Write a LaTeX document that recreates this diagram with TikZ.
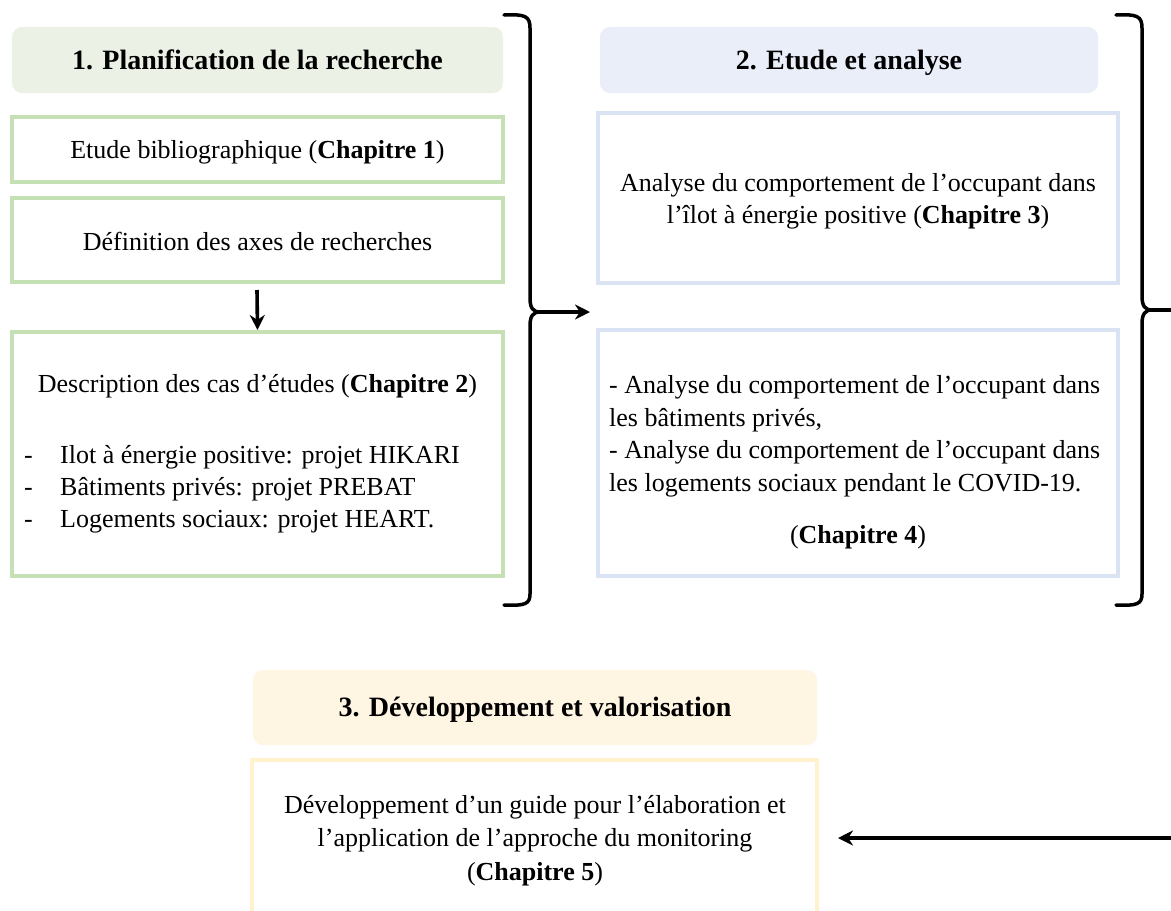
\documentclass[tikz,border=0pt]{standalone}
\usepackage{fontspec}
\setmainfont{Liberation Serif}
\usetikzlibrary{arrows.meta}
\definecolor{gline}{HTML}{C5E0B4}
\definecolor{gfill}{HTML}{EBF2E5}
\definecolor{bline}{HTML}{DAE3F3}
\definecolor{bfill}{HTML}{E9EEF8}
\definecolor{yline}{HTML}{FFF2CC}
\definecolor{yfill}{HTML}{FEF5E3}
\tikzset{
  hdr/.style={rounded corners=10pt, inner sep=0pt},
  hdrtxt/.style={inner sep=0pt, font=\fontsize{28}{32}\selectfont\bfseries},
  boxg/.style={draw=gline, line width=4pt, inner sep=0pt},
  boxb/.style={draw=bline, line width=4pt, inner sep=0pt},
  boxy/.style={draw=yline, line width=4pt, inner sep=0pt},
  txt/.style={inner sep=0pt, font=\fontsize{26}{32}\selectfont},
  brace/.style={line width=3.5pt, line join=round, line cap=round},
  arr/.style={line width=3.6pt, -{Stealth[length=15pt,width=15pt]}}
}
\begin{document}
\begin{tikzpicture}[x=1pt,y=-1pt]
\useasboundingbox (0,0) rectangle (1171,911);
\clip (0,0) rectangle (1171,911);
\fill[white] (0,0) rectangle (1171,911);
% column 1
\node[hdr, fill=gfill, minimum width=491pt, minimum height=66pt] (h1) at (257.5,60) {};
\node[hdrtxt, anchor=base] (h1t) at (257.5,69) {1. Planification de la recherche};
\node[boxg, minimum width=491pt, minimum height=65pt] (b1) at (257.5,149.5) {};
\node[txt, anchor=base] (b1t) at (257.5,158) {Etude bibliographique (\textbf{Chapitre 1})};
\node[boxg, minimum width=491pt, minimum height=84pt] (b2) at (257.5,240) {};
\node[txt, anchor=base] (b2t) at (257.5,250) {Définition des axes de recherches};
\node[boxg, minimum width=491pt, minimum height=244pt] (b3) at (257.5,454) {};
\node[txt, anchor=base] (b3t) at (257.5,392) {Description des cas d’études (\textbf{Chapitre 2})};
\node[txt, anchor=base west] (d1) at (24,463) {-};
\node[txt, anchor=base west] (d2) at (24,495) {-};
\node[txt, anchor=base west] (d3) at (24,527) {-};
\node[txt, anchor=base west] (l1) at (60,463) {Ilot à énergie positive: projet HIKARI};
\node[txt, anchor=base west] (l2) at (60,495) {Bâtiments privés: projet PREBAT};
\node[txt, anchor=base west] (l3) at (60,527) {Logements sociaux: projet HEART.};
\coordinate (a2) at (257,290);
\draw[arr] (a2) -- (b3.north);
% brace 1
\coordinate (c1) at (540,312);
\coordinate (c1end) at (590,312);
\draw[brace] (504,15) .. controls (525,14) and (530,16) .. (530,28) -- (530,298) .. controls (530,308) and (533,312) .. (c1)
  .. controls (533,312) and (530,316) .. (530,326) -- (530,594) .. controls (530,604) and (525,606) .. (504,605);
\draw[arr] (c1) -- (c1end);
% column 2
\node[hdr, fill=bfill, minimum width=498pt, minimum height=66pt] (h2) at (849,60) {};
\node[hdrtxt, anchor=base] (h2t) at (849,69) {2. Etude et analyse};
\node[boxb, minimum width=520pt, minimum height=170pt] (b4) at (858,198) {};
\node[txt, anchor=base] (b4a) at (858,191) {Analyse du comportement de l’occupant dans};
\node[txt, anchor=base] (b4b) at (858,223) {l’îlot à énergie positive (\textbf{Chapitre 3})};
\node[boxb, minimum width=520pt, minimum height=246pt] (b5) at (858,453) {};
\node[txt, anchor=base west] (b5a) at (609,393) {- Analyse du comportement de l’occupant dans};
\node[txt, anchor=base west] (b5b) at (609,426) {les bâtiments privés,};
\node[txt, anchor=base west] (b5c) at (609,458) {- Analyse du comportement de l’occupant dans};
\node[txt, anchor=base west] (b5d) at (609,491) {les logements sociaux pendant le COVID-19.};
\node[txt, anchor=base] (b5e) at (858,543) {(\textbf{Chapitre 4})};
% brace 2
\coordinate (c2) at (1152,310);
\coordinate (c2end) at (1171,310);
\draw[brace] (1116,15) .. controls (1137,14) and (1142,16) .. (1142,28) -- (1142,296) .. controls (1142,306) and (1145,310) .. (c2)
  .. controls (1145,310) and (1142,314) .. (1142,324) -- (1142,594) .. controls (1142,604) and (1137,606) .. (1116,605);
\draw[brace] (c2) -- (c2end);
% column 3
\node[hdr, fill=yfill, minimum width=564pt, minimum height=75pt] (h3) at (535,707.5) {};
\node[hdrtxt, anchor=base] (h3t) at (535,716) {3. Développement et valorisation};
\node[boxy, minimum width=565pt, minimum height=180pt] (b6) at (534.5,850) {};
\node[txt, anchor=base] (b6a) at (535,813) {Développement d’un guide pour l’élaboration et};
\node[txt, anchor=base] (b6b) at (535,846) {l’application de l’approche du monitoring};
\node[txt, anchor=base] (b6c) at (535,880) {(\textbf{Chapitre 5})};
\coordinate (a6s) at (1171,838);
\coordinate (a6e) at (838,838);
\draw[arr] (a6s) -- (a6e);
\end{tikzpicture}
\end{document}
